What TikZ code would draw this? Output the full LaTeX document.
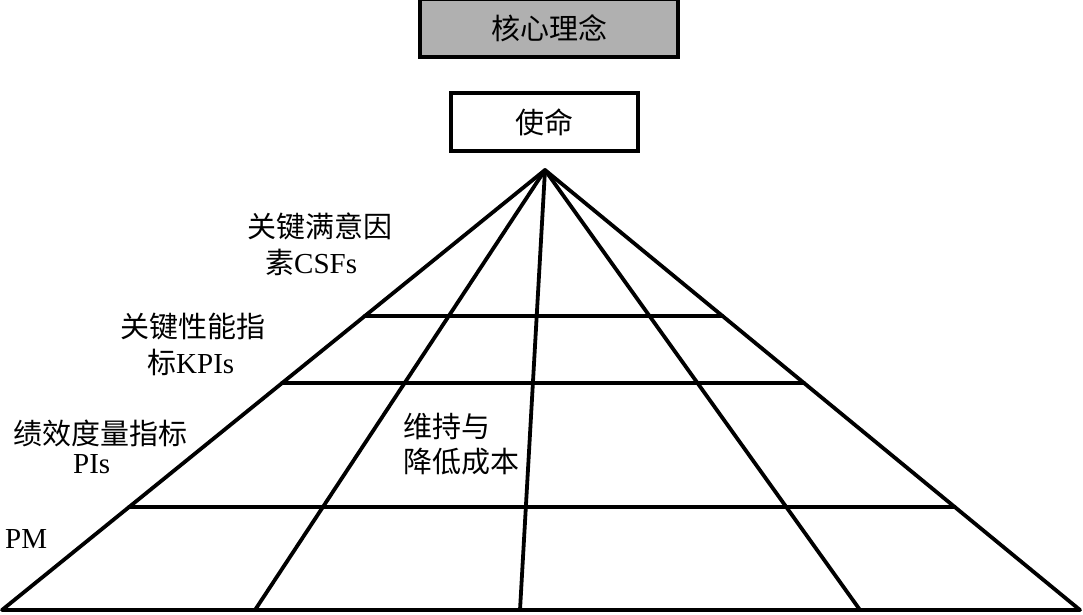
\documentclass[tikz,border=0pt]{standalone}
\usepackage{fontspec}
\setmainfont{Liberation Serif}
\newfontfamily\cjk{Noto Sans CJK SC}
\usetikzlibrary{calc}
\definecolor{boxgray}{HTML}{B0B0B0}
\begin{document}
\begin{tikzpicture}[x=1pt,y=-1pt,
  lbl/.style={anchor=west,inner sep=0pt,font=\fontsize{29}{34}\selectfont},
  topbox/.style={draw=black,line width=3.5pt,minimum width=258pt,minimum height=58pt,inner sep=0pt,font=\fontsize{29}{34}\selectfont},
  pyr/.style={line width=3.8pt,line cap=round,line join=round}]
\useasboundingbox (0,0) rectangle (1083,614);
\node[topbox,fill=boxgray] (core) at (549,28) {\cjk 核心理念};
\node[topbox,fill=white,minimum width=187pt] (mission) at (544.5,122) {\cjk 使命};
\coordinate (apex) at (545,170);
\coordinate (bl) at (2,610);
\coordinate (br) at (1080,610);
\coordinate (b1) at (255,610);
\coordinate (b2) at (520,610);
\coordinate (b3) at (860,610);
\draw[pyr] (bl) -- (apex) -- (br) -- cycle;
\draw[pyr] (apex) -- (b1);
\draw[pyr] (apex) -- (b2);
\draw[pyr] (apex) -- (b3);
\foreach \t/\n in {0.3318/h1,0.4841/h2,0.7659/h3}{
  \coordinate (\n l) at ($(apex)!\t!(bl)$);
  \coordinate (\n r) at ($(apex)!\t!(br)$);
  \draw[pyr] (\n l) -- (\n r);
}
\node[lbl] (csf1) at (247,226) {\cjk 关键满意因};
\node[lbl] (csf2) at (265,262) {{\cjk 素}CSFs};
\node[lbl] (kpi1) at (120,326) {\cjk 关键性能指};
\node[lbl] (kpi2) at (147,362) {{\cjk 标}KPIs};
\node[lbl] (pi1) at (13,433) {\cjk 绩效度量指标};
\node[lbl] (pi2) at (73,464) {PIs};
\node[lbl] (pm) at (5,539) {PM};
\node[lbl] (keep1) at (403,426) {\cjk 维持与};
\node[lbl] (keep2) at (403,462) {\cjk 降低成本};
\end{tikzpicture}
\end{document}
